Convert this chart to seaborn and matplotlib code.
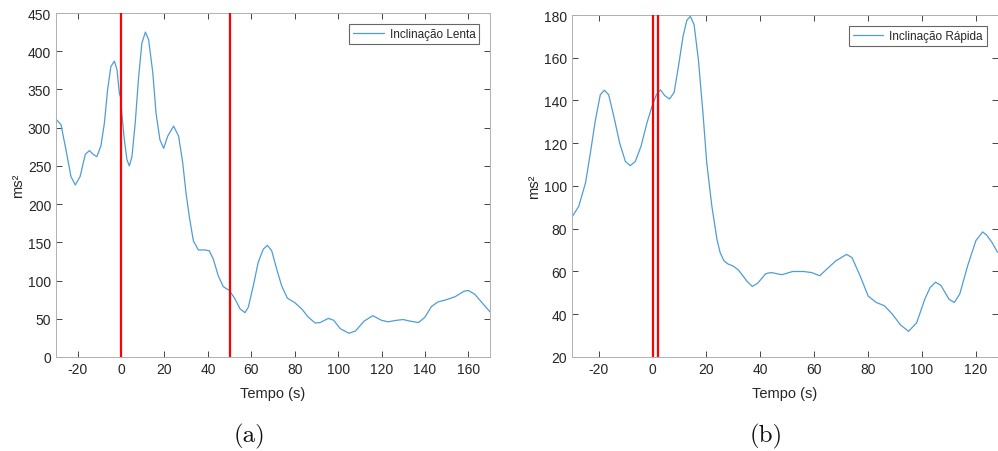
import matplotlib
matplotlib.use("Agg")
import matplotlib.pyplot as plt
import seaborn as sns
import pandas as pd

# Inclinação Lenta (slow tilt)
tempo_lenta = [-30, -27.7, -25.4, -23.1, -21.1, -18.9, -16.5, -14.6, -12.8, -11.2, -9.3,
               -7.7, -6.2, -4.7, -3.1, -1.9, -0.8, -0.05, 0.1, 1.5, 2.7, 3.8, 5.0, 6.5,
               8.1, 9.6, 11.2, 12.7, 14.6, 16.1, 17.9, 19.6, 21.5, 24.2, 26.5, 28.4,
               29.9, 31.4, 33.3, 35.6, 38.7, 40.6, 42.5, 44.8, 47.1, 49.9, 52.5, 54.8,
               57.1, 58.6, 60.9, 63.2, 65.5, 67.4, 69.4, 71.7, 74.0, 76.6, 80.1, 83.2,
               86.3, 89.4, 91.7, 95.5, 98, 101, 105, 108, 112, 116, 120, 123,
               127, 130, 133, 137, 140, 143, 146, 150, 154, 158, 160, 163, 166, 170]
ms2_lenta = [311, 304, 271, 236, 225, 236, 265, 270, 265, 262, 276,
             306, 350, 380, 387, 376, 345, 338, 326, 284, 258, 250, 262, 306,
             367, 411, 425, 415, 372, 319, 284, 273, 289, 302, 289, 254,
             215, 184, 152, 140, 140, 139, 128, 106, 92, 87, 76, 63,
             58, 65, 93, 124, 141, 146, 139, 115, 93, 77, 71, 63,
             52, 44.5, 45, 50.5, 48, 37, 31, 34, 47, 54, 48, 46,
             48, 49, 47, 45, 52, 66, 72, 75, 79, 86, 87, 82, 72, 59]

# Inclinação Rápida (fast tilt)
tempo_rapida = [-29.9, -27.4, -24.9, -23.1, -21.2, -19.4, -17.9, -16.3, -14.4, -12.2,
                -10.1, -8.3, -6.4, -4.3, -2.1, -0.2, 1.4, 2.9, 4.5, 6.3, 8.0, 9.6,
                11.3, 12.7, 14.0, 15.4, 17.0, 18.7, 20.1, 22.0, 23.9, 25.1, 26.5,
                28, 30, 32, 35, 37, 39, 42, 44, 48, 52, 56, 59, 62, 65, 68, 72, 74,
                77, 80, 83, 86, 89, 92, 95, 98, 101, 103, 105, 107, 110, 112, 114,
                117, 120, 122.5, 124, 126, 128]
ms2_rapida = [85.5, 90.5, 101.4, 115.4, 131, 142.7, 144.8, 142.7, 132.6, 120,
              111.5, 109.5, 111.5, 118.6, 129.5, 137.3, 142.7, 145, 142.3, 140.7, 143.8, 156,
              170, 177.5, 179.4, 175.5, 159, 134, 110.8, 90.5, 74.9, 68.7, 65,
              63.5, 62.5, 60.5, 55.5, 53, 54.5, 59, 59.5, 58.5, 60, 60, 59.5, 58, 61.5, 65, 68, 66.5,
              58, 48.5, 45.5, 44, 40, 35, 32, 36, 47, 52.5, 55, 53.5, 47, 45.5, 49.5,
              63, 74.5, 78.5, 77, 73.5, 69]

marcos_lenta = [0, 50]
marcos_rapida = [0, 2]

sns.set_theme(style="ticks")
plt.rcParams["font.family"] = ["Liberation Sans", "DejaVu Sans"]
plt.rcParams["axes.unicode_minus"] = False

tick_color = "#262626"
line_color = "#4e9dd6"

fig = plt.figure(figsize=(9.98, 4.52), dpi=100)
ax_a = fig.add_axes([0.0561, 0.208, 0.4349, 0.761])
ax_b = fig.add_axes([0.5729, 0.208, 0.4266, 0.7566])

paineis = [
    (ax_a, tempo_lenta, ms2_lenta, "Inclinação Lenta", marcos_lenta,
     (-30, 170), (0, 450), range(-20, 161, 20), range(0, 451, 50), "(a)", 0.2505),
    (ax_b, tempo_rapida, ms2_rapida, "Inclinação Rápida", marcos_rapida,
     (-30, 128), (20, 180), range(-20, 121, 20), range(20, 181, 20), "(b)", 0.7675),
]

for ax, t, v, nome, marcos, xlim, ylim, xt, yt, legenda, xcap in paineis:
    df = pd.DataFrame({"Tempo (s)": t, "ms²": v})
    sns.lineplot(data=df, x="Tempo (s)", y="ms²", ax=ax, color=line_color,
                 linewidth=0.9, label=nome)
    for m in marcos:
        ax.axvline(m, color="#ff0000", linewidth=1.6, zorder=3)
    ax.set_xlim(*xlim)
    ax.set_ylim(*ylim)
    ax.set_xticks(list(xt))
    ax.set_yticks(list(yt))
    ax.tick_params(direction="in", length=4, width=0.6, top=True, right=True,
                   labelsize=10, colors=tick_color, labelcolor=tick_color)
    for s in ax.spines.values():
        s.set_visible(True)
        s.set_linewidth(0.7)
        s.set_color("#b0b0b0")
    ax.set_xlabel("Tempo (s)", fontsize=10.5, color=tick_color, labelpad=7)
    ax.set_ylabel("ms²", fontsize=10.5, color=tick_color, labelpad=2)
    leg = ax.legend(loc="upper right", fontsize=8.5, frameon=True, fancybox=False,
                    edgecolor="#404040", handlelength=2.6, borderpad=0.35,
                    handletextpad=0.5, borderaxespad=0.9)
    leg.get_frame().set_linewidth(0.8)
    fig.text(xcap, 1 - 436 / 452, legenda, ha="center", va="center", fontsize=18,
             family="cmr10", color="#111111")

fig.savefig("out.png", dpi=100)
